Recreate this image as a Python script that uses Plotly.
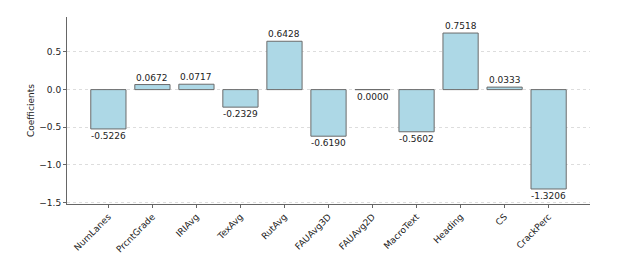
import plotly.graph_objects as go

features = ["NumLanes", "PrcntGrade", "IRIAvg", "TexAvg", "RutAvg", "FAUAvg3D",
            "FAUAvg2D", "MacroText", "Heading", "CS", "CrackPerc"]
coefficients = [-0.5226, 0.0672, 0.0717, -0.2329, 0.6428, -0.6190,
                0.0000, -0.5602, 0.7518, 0.0333, -1.3206]
y_ticks = [0.5, 0.0, -0.5, -1.0, -1.5]
y_tick_labels = ["0.5", "0.0", "\u22120.5", "\u22121.0", "\u22121.5"]

font = "DejaVu Sans"
fig = go.Figure()
fig.add_trace(go.Bar(
    x=list(range(len(features))), y=coefficients, width=0.8,
    marker=dict(color="#ADD8E6", line=dict(color="#6b6b6b", width=1)),
    hoverinfo="skip",
))

for i, v in enumerate(coefficients):
    pos = v > 0
    fig.add_annotation(
        x=i, y=v, text=f"{v:.4f}", showarrow=False,
        yanchor="bottom" if pos else "top", yshift=0,
        font=dict(family=font, size=9, color="#222"),
    )

fig.update_layout(
    width=629, height=256,
    margin=dict(l=67, r=39, t=17, b=52),
    paper_bgcolor="white", plot_bgcolor="white",
    showlegend=False,
    font=dict(family=font, size=9, color="#222"),
    xaxis=dict(
        range=[-0.94, 10.94], tickmode="array",
        tickvals=list(range(len(features))), ticktext=features,
        tickangle=-45, ticks="outside", ticklen=3, tickcolor="#666",
        showline=True, linecolor="#666", linewidth=1, showgrid=False,
        zeroline=False, tickfont=dict(size=9), automargin=False,
    ),
    yaxis=dict(
        range=[-1.52, 0.965], tickmode="array",
        tickvals=y_ticks, ticktext=y_tick_labels,
        ticks="outside", ticklen=3, tickcolor="#666",
        showline=True, linecolor="#666", linewidth=1,
        showgrid=True, gridcolor="#dddddd", gridwidth=0.8, griddash="dot",
        zeroline=False, tickfont=dict(size=9), automargin=False,
        title=dict(text="Coefficients", font=dict(size=9), standoff=3),
    ),
)

fig.write_html("out.html", config={"displayModeBar": False},
               post_script="document.body.style.margin='0';")
